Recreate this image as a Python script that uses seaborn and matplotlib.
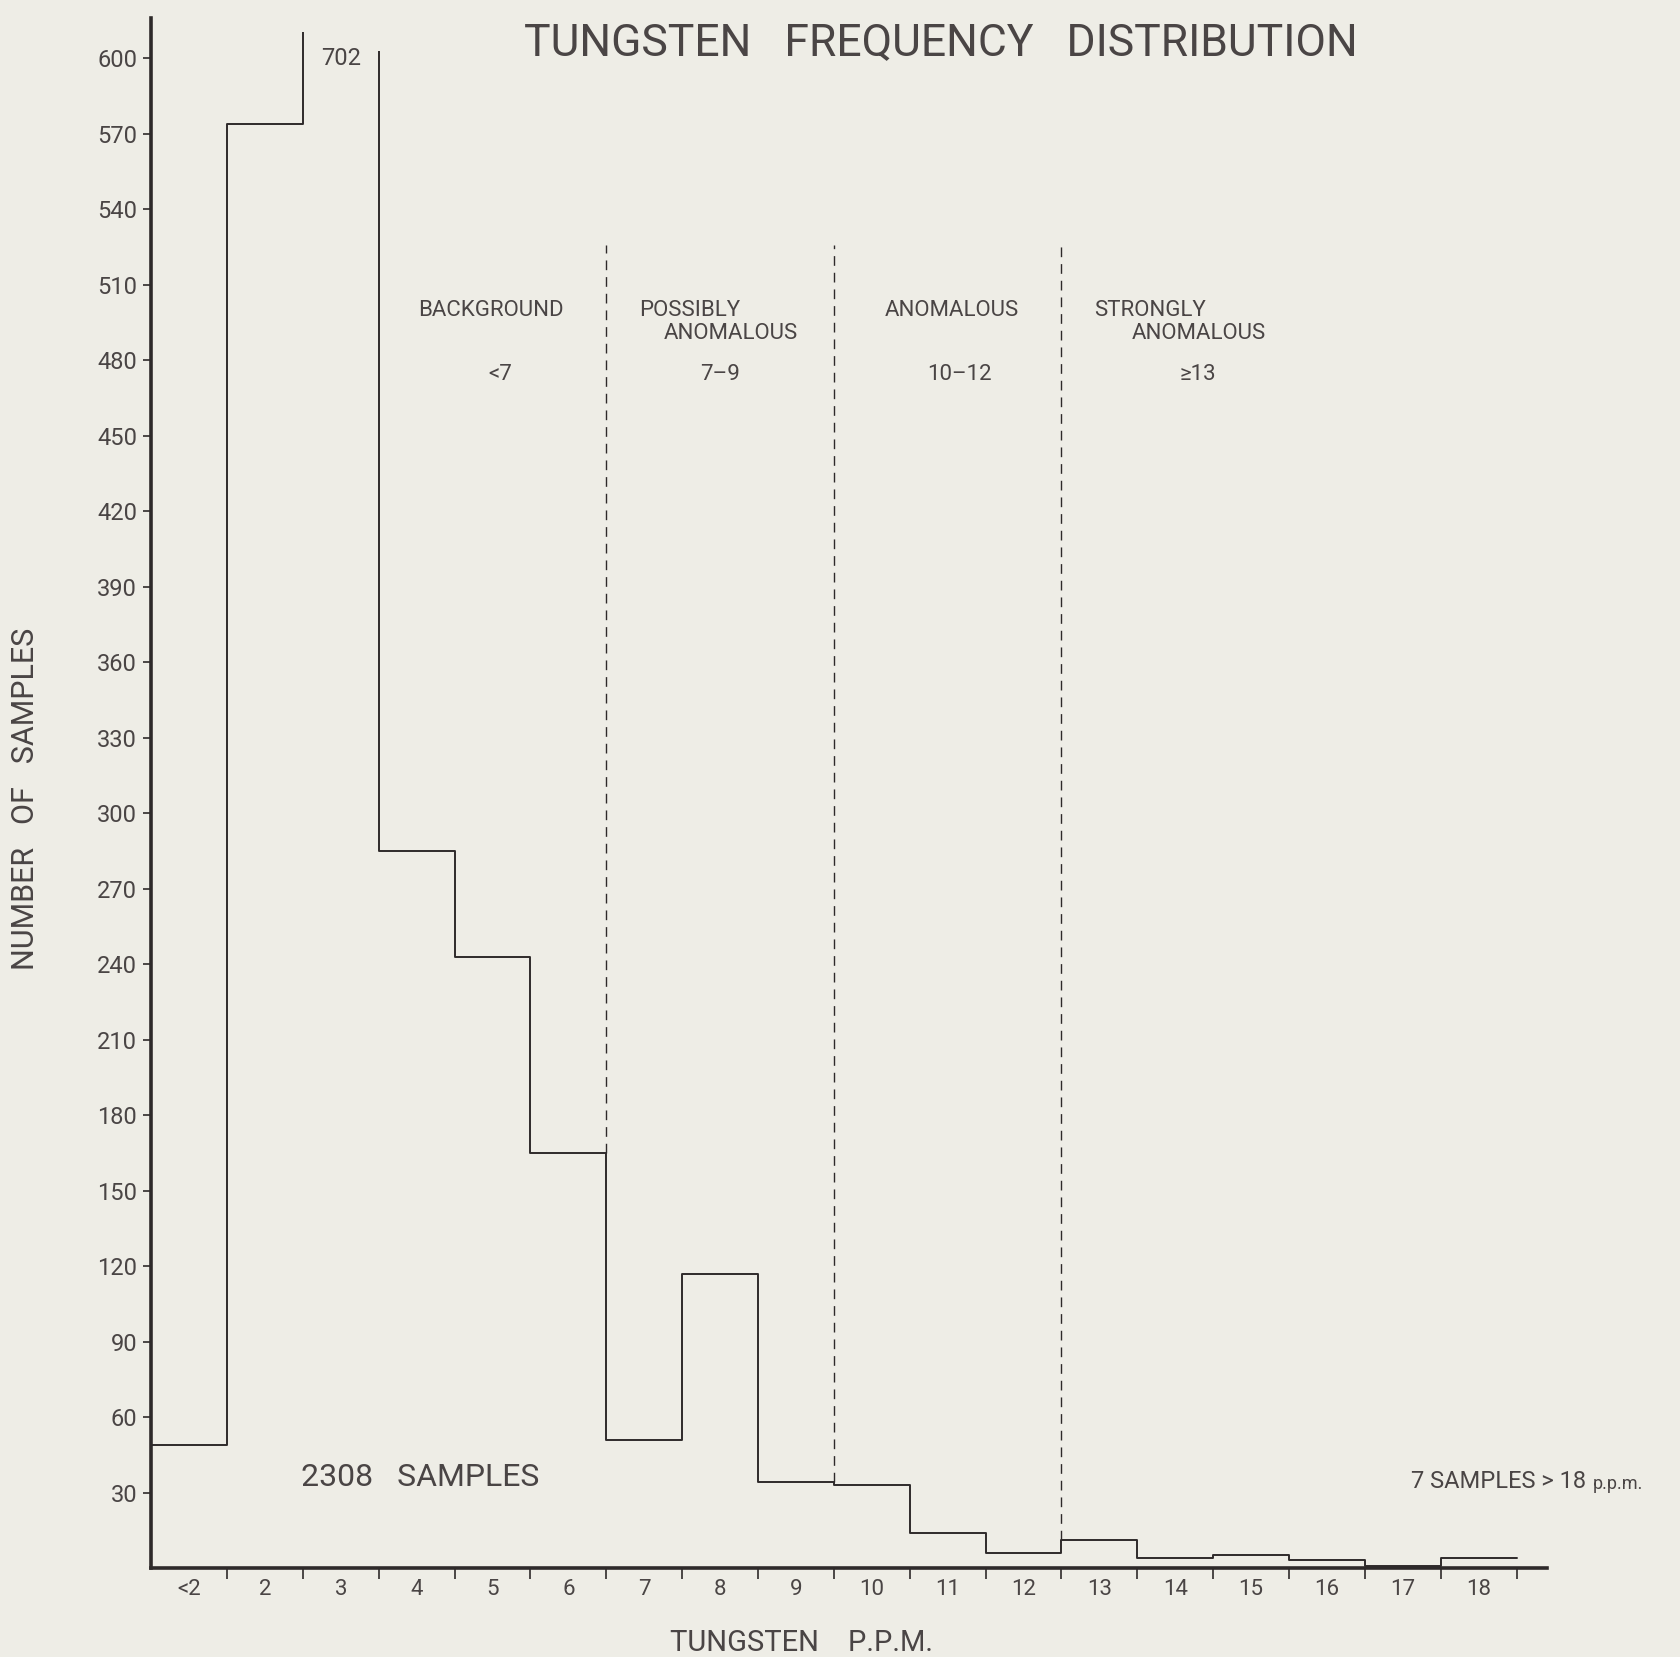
import numpy as np
import pandas as pd
import matplotlib
matplotlib.use("Agg")
import matplotlib.pyplot as plt
from matplotlib.patches import Polygon
import seaborn as sns

# ---- data ----
categories = ["<2", "2", "3", "4", "5", "6", "7", "8", "9", "10",
              "11", "12", "13", "14", "15", "16", "17", "18"]
counts = [49, 574, 702, 285, 243, 165, 51, 117, 34, 33,
          14, 6, 11, 4, 5, 3, 1, 4]
y_ticks = list(range(30, 601, 30))
class_bounds = [6, 9, 12]          # bin edges where the classes change
class_line1 = ["BACKGROUND", "POSSIBLY", "ANOMALOUS", "STRONGLY"]
class_line2 = ["", "ANOMALOUS", "", "ANOMALOUS"]
class_ranges = ["<7", "7\u20139", "10\u201312", "\u226513"]

BG = "#eeede6"
INK = "#2e2a2a"
TXT = "#4a4545"

sns.set_style("ticks")
plt.rcParams["font.family"] = ["Roboto", "DejaVu Sans"]
plt.rcParams["font.weight"] = "normal"

fig = plt.figure(figsize=(16.81, 16.57), dpi=100, facecolor=BG)
ax = fig.add_axes([0.0899, 0.0537, 0.8304, 0.9353])
ax.set_facecolor(BG)

df = pd.DataFrame({"pos": np.arange(len(categories)) + 0.5, "n": counts})
before = len(ax.lines)
sns.histplot(data=df, x="pos", weights="n", bins=list(range(len(categories) + 1)),
             element="step", fill=False, color=INK, linewidth=1.4, ax=ax)
new_lines = ax.lines[before:]

ax.set_xlim(0, 18.4)
ax.set_ylim(0, 616)

# broken "702" bar: clip its upright edges at different heights
clip = Polygon([(-1, -50), (19, -50), (19, 700), (3.3, 700), (3.3, 603),
                (2.5, 603), (2.5, 610.5), (-1, 610.5)], closed=True,
               transform=ax.transData, visible=False)
ax.add_patch(clip)
for ln in new_lines:
    ln.set_clip_path(clip)
for p in ax.patches:
    if p is not clip:
        p.set_clip_path(clip)

# class boundary dashed lines
for b in class_bounds:
    lo = max(counts[b - 1], counts[b])
    ax.plot([b, b], [lo, 526], color=INK, lw=1.0, ls=(0, (7, 5)))

# spines & ticks
sns.despine(ax=ax)
for s in ("left", "bottom"):
    ax.spines[s].set_color(INK)
    ax.spines[s].set_linewidth(2.6)

ax.set_yticks(y_ticks)
ax.set_yticklabels([str(v) for v in y_ticks])
ax.tick_params(axis="y", length=6, width=1.2, color=INK, labelsize=17,
               labelcolor=TXT, pad=4)

ax.set_xticks(np.arange(1, len(categories) + 1))
ax.set_xticklabels([])
ax.set_xticks(np.arange(len(categories)) + 0.5, minor=True)
ax.set_xticklabels(categories, minor=True)
ax.tick_params(axis="x", which="major", length=8, width=1.2, color=INK, direction="out")
ax.tick_params(axis="x", which="minor", length=0, labelsize=16, labelcolor=TXT, pad=8)
ax.set_xlabel("")
ax.set_ylabel("")

# texts
fig.text(0.56, 0.974, "TUNGSTEN   FREQUENCY   DISTRIBUTION", ha="center", va="center",
         fontsize=32, color=TXT)
fig.text(0.477, 0.0083, "TUNGSTEN    P.P.M.", ha="center", va="center",
         fontsize=21, color=TXT)
fig.text(0.015, 0.518, "NUMBER   OF   SAMPLES", ha="center", va="center",
         rotation=90, fontsize=22, color=TXT)

ax.text(2.5, 600, "702", ha="center", va="center", fontsize=17, color=TXT)
ax.text(3.55, 36, "2308   SAMPLES", ha="center", va="center", fontsize=23, color=TXT)
ax.text(16.61, 34.5, "7 SAMPLES > 18", ha="left", va="center", fontsize=17,
        color=TXT, clip_on=False)
ax.text(19.0, 33.5, "p.p.m.", ha="left", va="center", fontsize=13,
        color=TXT, clip_on=False)

fs = 16
line1_x = [4.48, 6.43, 10.56, 12.43]
line1_ha = ["center", "left", "center", "left"]
line2_x = [6.76, 12.93]
for i in range(4):
    ax.text(line1_x[i], 500, class_line1[i], ha=line1_ha[i], va="center",
            fontsize=fs, color=TXT)
ax.text(line2_x[0], 490.5, class_line2[1], ha="left", va="center", fontsize=fs, color=TXT)
ax.text(line2_x[1], 490.5, class_line2[3], ha="left", va="center", fontsize=fs, color=TXT)
range_x = [4.6, 7.5, 10.66, 13.8]
for i in range(4):
    ax.text(range_x[i], 474.5, class_ranges[i], ha="center", va="center",
            fontsize=fs, color=TXT)

fig.savefig("out.png", dpi=100, facecolor=BG)
